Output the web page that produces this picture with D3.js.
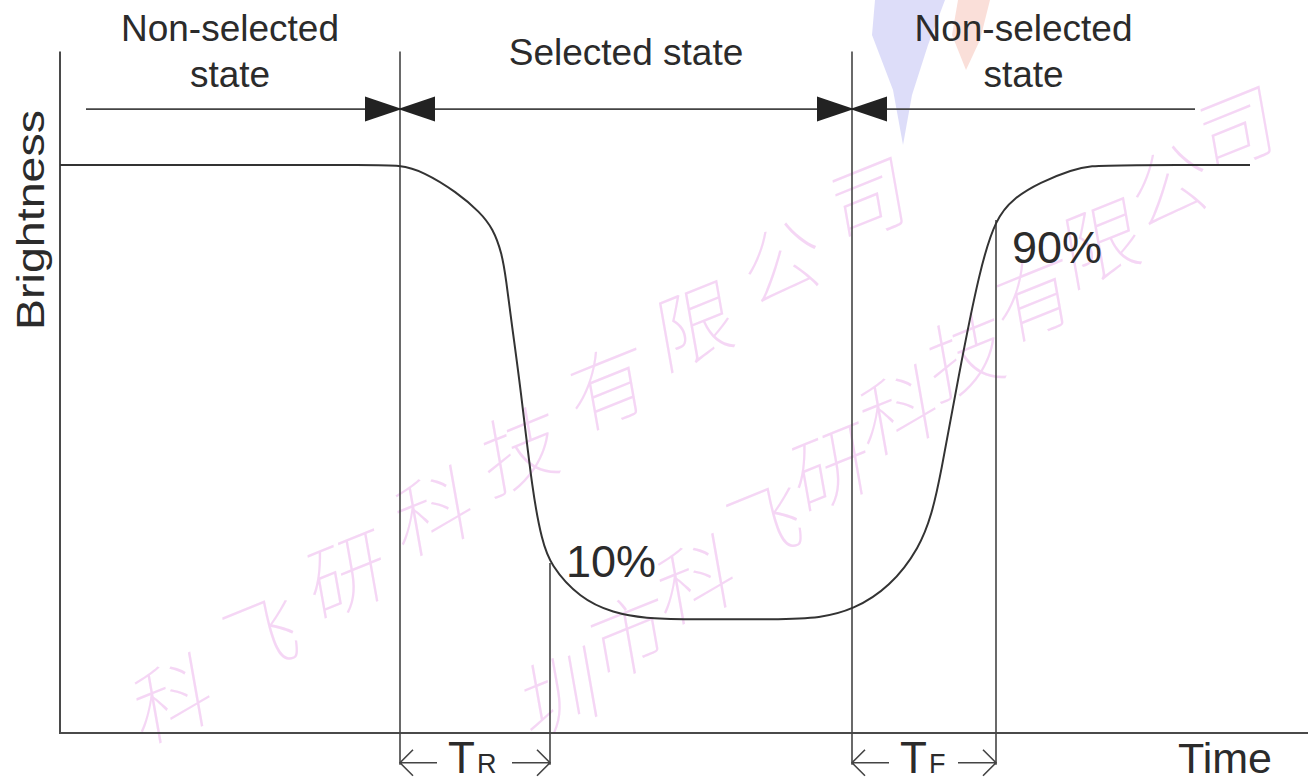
<!DOCTYPE html>
<meta charset="utf-8">
<style>
    body { margin: 0; background: #fff; }
    svg { display: block; }
    .lbl { font-family: "Liberation Sans", Arial, sans-serif; fill: #2b2b2b; }
    .guide { stroke: #444; stroke-width: 1.6; fill: none; }
    .axis-line { stroke: #4a4a4a; stroke-width: 2; }
</style>
<svg width="1308" height="781"></svg>
<script src="https://cdn.jsdelivr.net/npm/d3@7"></script>
<script>
    // brightness response curve (time units, brightness %)
    var curveTime = [0, 20, 31, 34, 36.3, 39.7, 42, 43.3, 44.2, 44.6, 45.2, 46, 47.3, 48.2, 49, 52, 55.3, 58.7,
        62, 72, 76, 79.3, 83, 86, 87.2, 88, 89.8, 92, 93.6, 95.3, 98, 101.3, 103, 106, 119]
    var curveBrightness = [100, 100, 100, 100, 98.6, 94, 89.6, 86, 80.5, 75, 64.5, 52, 27, 17.5, 12, 4.6, 1.4, 0.2,
        0, 0, 0.3, 2.1, 7.1, 15.9, 23.4, 31, 53, 77.5, 88.3, 92.6, 96.2, 99, 99.8, 100, 100]

    // state boundaries and the 10% / 90% marks
    var stateEdges = [34, 79.2]
    var markTimes = [49, 93.6]
    var markBrightness = [12.4, 87.9]
    var markLabels = ["10%", "90%"]

    var stateNames = [["Non-selected", "state"], ["Selected state"], ["Non-selected", "state"]]
    var stateSpans = [[0, 34], [34, 79.2], [79.2, 113.5]]
    var arrowSpan = [2.6, 113.5]

    var respLabels = [["T", "R"], ["T", "F"]]
    var respSpans = [[34, 49], [79.2, 93.6]]

    var watermark = ["科飞研科技有限公司", "圳市科飞研科技有限公司"]

    var svg = d3.select("svg"),
        width = +svg.attr("width"),
        height = +svg.attr("height");

    var x = d3.scaleLinear().domain([0, 125]).range([60, 1310])
    var y = d3.scaleLinear().domain([-25, 100]).range([733, 165])

    // faint watermark
    var wm = svg.append("g")
    wm.append("path")
        .attr("d", "M875,0 L945,0 L928,45 L912,95 L903,145 L893,90 L872,35 Z")
        .attr("fill", "#cfcff6").attr("opacity", 0.7)
    wm.append("path")
        .attr("d", "M958,0 L990,0 L980,40 L966,70 L952,35 Z")
        .attr("fill", "#f6cabf").attr("opacity", 0.6)
    var wmLines = [[[172, 694], [868, 195]], [[560, 688], [1236, 124]]]
    watermark.forEach(function (s, i) {
        var chars = s.split("")
        var p0 = wmLines[i][0], p1 = wmLines[i][1]
        wm.selectAll("text.wm" + i)
            .data(chars)
            .join("text")
            .attr("class", "wm" + i)
            .attr("text-anchor", "middle")
            .attr("dominant-baseline", "central")
            .attr("transform", (d, k) => {
                var f = k / (chars.length - 1)
                return "translate(" + (p0[0] + f * (p1[0] - p0[0])) + "," + (p0[1] + f * (p1[1] - p0[1])) + ") rotate(-22) skewX(-12)"
            })
            .attr("font-family", "Noto Sans CJK SC")
            .attr("font-size", 82)
            .attr("font-weight", 100)
            .attr("fill", "#f3cdf3")
            .attr("opacity", 0.8)
            .text(d => d)
    })

    // axes
    svg.append("line").attr("class", "axis-line")
        .attr("x1", x(0)).attr("x2", x(0)).attr("y1", y(125)).attr("y2", y(-25))
    svg.append("line").attr("class", "axis-line")
        .attr("x1", x(0) - 1).attr("x2", width).attr("y1", y(-25)).attr("y2", y(-25))

    // vertical guides
    svg.selectAll("line.edge")
        .data(stateEdges)
        .join("line")
        .attr("class", "guide edge")
        .attr("x1", d => x(d)).attr("x2", d => x(d))
        .attr("y1", y(125)).attr("y2", y(-32))
    svg.selectAll("line.mark")
        .data(markTimes)
        .join("line")
        .attr("class", "guide mark")
        .attr("x1", d => x(d)).attr("x2", d => x(d))
        .attr("y1", (d, i) => y(markBrightness[i])).attr("y2", y(-32))

    // the curve
    var pts = curveTime.map((t, i) => [t, curveBrightness[i]])
    svg.append("path")
        .datum(pts)
        .attr("fill", "none")
        .attr("stroke", "#333")
        .attr("stroke-width", 2)
        .attr("d", d3.line().x(d => x(d[0])).y(d => y(d[1])).curve(d3.curveBasis))

    // state arrows
    var ay = y(112.3)
    svg.append("line").attr("class", "guide")
        .attr("x1", x(arrowSpan[0])).attr("x2", x(arrowSpan[1]))
        .attr("y1", ay).attr("y2", ay)
    var tri = []
    stateEdges.forEach(function (e) {
        tri.push([x(e) - 2, -1])
        tri.push([x(e) + 2, 1])
    })
    svg.selectAll("path.tri")
        .data(tri)
        .join("path")
        .attr("class", "tri")
        .attr("fill", "#222")
        .attr("d", d => "M" + d[0] + "," + ay + " L" + (d[0] - d[1] * 37) + "," + (ay - 12.5) +
            " L" + (d[0] - d[1] * 37) + "," + (ay + 12.5) + " Z")

    // state labels
    svg.selectAll("text.state")
        .data(stateNames)
        .join("text")
        .attr("class", "lbl state")
        .attr("text-anchor", "middle")
        .attr("font-size", 37)
        .attr("x", (d, i) => (x(stateSpans[i][0]) + x(stateSpans[i][1])) / 2)
        .attr("y", d => d.length > 1 ? 41 : 65)
        .each(function (d) {
            var t = d3.select(this)
            d.forEach(function (s, k) {
                t.append("tspan")
                    .attr("x", t.attr("x"))
                    .attr("dy", k ? 46 : 0)
                    .text(s)
            })
        })

    // percent labels
    svg.selectAll("text.pct")
        .data(markLabels)
        .join("text")
        .attr("class", "lbl pct")
        .attr("font-size", 45)
        .attr("x", (d, i) => x(markTimes[i]) + 16)
        .attr("y", (d, i) => i ? 263 : 577)
        .text(d => d)

    // response time arrows
    var ry = y(-32) - 2
    respSpans.forEach(function (s, i) {
        var g = svg.append("g")
        var a = x(s[0]), b = x(s[1])
        g.append("path").attr("class", "guide").attr("stroke-width", 1.4)
            .attr("d", "M" + (a + 37) + "," + ry + " L" + a + "," + ry +
                " M" + (a + 13) + "," + (ry - 13) + " L" + a + "," + ry + " L" + (a + 13) + "," + (ry + 13))
        g.append("path").attr("class", "guide").attr("stroke-width", 1.4)
            .attr("d", "M" + (b - 38) + "," + ry + " L" + b + "," + ry +
                " M" + (b - 13) + "," + (ry - 13) + " L" + b + "," + ry + " L" + (b - 13) + "," + (ry + 13))
        var t = g.append("text").attr("class", "lbl")
            .attr("x", a + 48).attr("y", 773).attr("font-size", 44)
        t.append("tspan").text(respLabels[i][0])
        t.append("tspan").attr("font-size", 27).attr("dx", 2).text(respLabels[i][1])
    })

    // axis titles
    svg.append("text").attr("class", "lbl")
        .attr("font-size", 38)
        .attr("text-anchor", "middle")
        .attr("textLength", 220).attr("lengthAdjust", "spacingAndGlyphs")
        .attr("transform", "translate(44," + 220 + ") rotate(-90)")
        .text("Brightness")
    svg.append("text").attr("class", "lbl")
        .attr("font-size", 43)
        .attr("x", 1178).attr("y", 773)
        .text("Time")
</script>
